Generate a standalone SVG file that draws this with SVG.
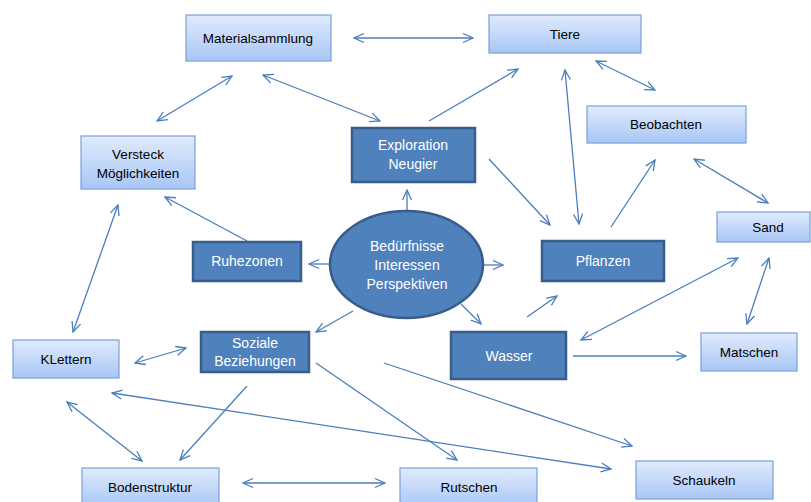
<svg xmlns="http://www.w3.org/2000/svg" width="811" height="502" viewBox="0 0 811 502">
<style>
.lb{fill:url(#lg);stroke:#7aa0d6;stroke-width:1.2}
.db{fill:#4f81bd;stroke:#385d8a;stroke-width:2.5}
.tb{font-family:"Liberation Sans",Arial,sans-serif;font-size:13.5px;fill:#000;text-anchor:middle}
.tw{font-family:"Liberation Sans",Arial,sans-serif;font-size:14px;fill:#fff;text-anchor:middle}
.c line{stroke:#4a7ebb;stroke-width:1.3;fill:none}
.s{marker-end:url(#ah)}
.d{marker-start:url(#as);marker-end:url(#ah)}
</style>
<defs>
<linearGradient id="lg" x1="0" y1="0" x2="0" y2="1">
<stop offset="0" stop-color="#e0ebfd"/>
<stop offset="1" stop-color="#a8c6f5"/>
</linearGradient>
<marker id="ah" viewBox="0 0 12 12" refX="11" refY="6" markerWidth="12" markerHeight="12" markerUnits="userSpaceOnUse" orient="auto">
<path d="M1,1.5 L11,6 L1,10.5" fill="none" stroke="#4a7ebb" stroke-width="1.3"/>
</marker>
<marker id="as" viewBox="0 0 12 12" refX="11" refY="6" markerWidth="12" markerHeight="12" markerUnits="userSpaceOnUse" orient="auto-start-reverse">
<path d="M1,1.5 L11,6 L1,10.5" fill="none" stroke="#4a7ebb" stroke-width="1.3"/>
</marker>
</defs>
<rect width="811" height="502" fill="#fff"/>
<g class="c" id="connectors">
<line class="d" x1="354" y1="38" x2="473" y2="38"/>
<line class="d" x1="232" y1="76" x2="157" y2="121"/>
<line class="d" x1="263" y1="75" x2="380" y2="121"/>
<line class="s" x1="429" y1="121" x2="518" y2="69"/>
<line class="d" x1="565" y1="70" x2="579" y2="224"/>
<line class="d" x1="596" y1="61" x2="655" y2="90"/>
<line class="s" x1="489" y1="159" x2="550" y2="225"/>
<line class="s" x1="611" y1="227" x2="655" y2="160"/>
<line class="d" x1="694" y1="159" x2="768" y2="203"/>
<line class="d" x1="769" y1="258" x2="747" y2="324"/>
<line class="d" x1="738" y1="258" x2="581" y2="340"/>
<line class="s" x1="573" y1="356" x2="686" y2="356"/>
<line class="s" x1="407" y1="211" x2="407" y2="190"/>
<line class="s" x1="483" y1="265" x2="503" y2="265"/>
<line class="s" x1="330" y1="264" x2="309" y2="264"/>
<line class="s" x1="461" y1="304" x2="481" y2="324"/>
<line class="s" x1="353" y1="311" x2="316" y2="332"/>
<line class="s" x1="527" y1="317" x2="557" y2="296"/>
<line class="s" x1="247" y1="241" x2="165" y2="197"/>
<line class="d" x1="118" y1="205" x2="73" y2="332"/>
<line class="d" x1="135" y1="363" x2="186" y2="348"/>
<line class="d" x1="67" y1="402" x2="142" y2="461"/>
<line class="s" x1="247" y1="386" x2="180" y2="460"/>
<line class="d" x1="112" y1="393" x2="611" y2="469"/>
<line class="s" x1="316" y1="363" x2="457" y2="460"/>
<line class="s" x1="384" y1="363" x2="632" y2="446"/>
<line class="d" x1="243" y1="483" x2="385" y2="483"/>
</g>
<g id="n-material"><rect class="lb" x="186" y="15" width="145" height="46"/><text class="tb" x="258" y="43">Materialsammlung</text></g>
<g id="n-tiere"><rect class="lb" x="489" y="15" width="152" height="38"/><text class="tb" x="565" y="39">Tiere</text></g>
<g id="n-beobachten"><rect class="lb" x="587" y="106" width="159" height="37"/><text class="tb" x="666" y="129">Beobachten</text></g>
<g id="n-sand"><rect class="lb" x="717" y="212" width="93" height="30"/><text class="tb" x="768" y="232">Sand</text></g>
<g id="n-matschen"><rect class="lb" x="701" y="333" width="96" height="38"/><text class="tb" x="749" y="357">Matschen</text></g>
<g id="n-versteck"><rect class="lb" x="81" y="136" width="114" height="53"/><text class="tb" x="138" y="159">Versteck</text><text class="tb" x="138" y="178">Möglichkeiten</text></g>
<g id="n-klettern"><rect class="lb" x="13" y="340" width="106" height="38"/><text class="tb" x="66" y="364">KLettern</text></g>
<g id="n-boden"><rect class="lb" x="82" y="468" width="137" height="40"/><text class="tb" x="150" y="492">Bodenstruktur</text></g>
<g id="n-rutschen"><rect class="lb" x="400" y="468" width="137" height="40"/><text class="tb" x="469" y="492">Rutschen</text></g>
<g id="n-schaukeln"><rect class="lb" x="636" y="461" width="137" height="38"/><text class="tb" x="704" y="485">Schaukeln</text></g>
<g id="n-exploration"><rect class="db" x="352" y="128" width="123" height="54"/><text class="tw" x="413" y="150">Exploration</text><text class="tw" x="413" y="169">Neugier</text></g>
<g id="n-ruhezonen"><rect class="db" x="193" y="242" width="108" height="39"/><text class="tw" x="247" y="266">Ruhezonen</text></g>
<g id="n-soziale"><rect class="db" x="201" y="332" width="108" height="40"/><text class="tw" x="255" y="348">Soziale</text><text class="tw" x="255" y="366">Beziehungen</text></g>
<g id="n-pflanzen"><rect class="db" x="542" y="241" width="122" height="40"/><text class="tw" x="603" y="266">Pflanzen</text></g>
<g id="n-wasser"><rect class="db" x="451" y="332" width="115" height="47"/><text class="tw" x="509" y="361">Wasser</text></g>
<g id="n-center"><ellipse class="db" cx="406.5" cy="264.5" rx="76.5" ry="53.5"/><text class="tw" x="407" y="251">Bedürfnisse</text><text class="tw" x="407" y="270">Interessen</text><text class="tw" x="407" y="289">Perspektiven</text></g>
</svg>
